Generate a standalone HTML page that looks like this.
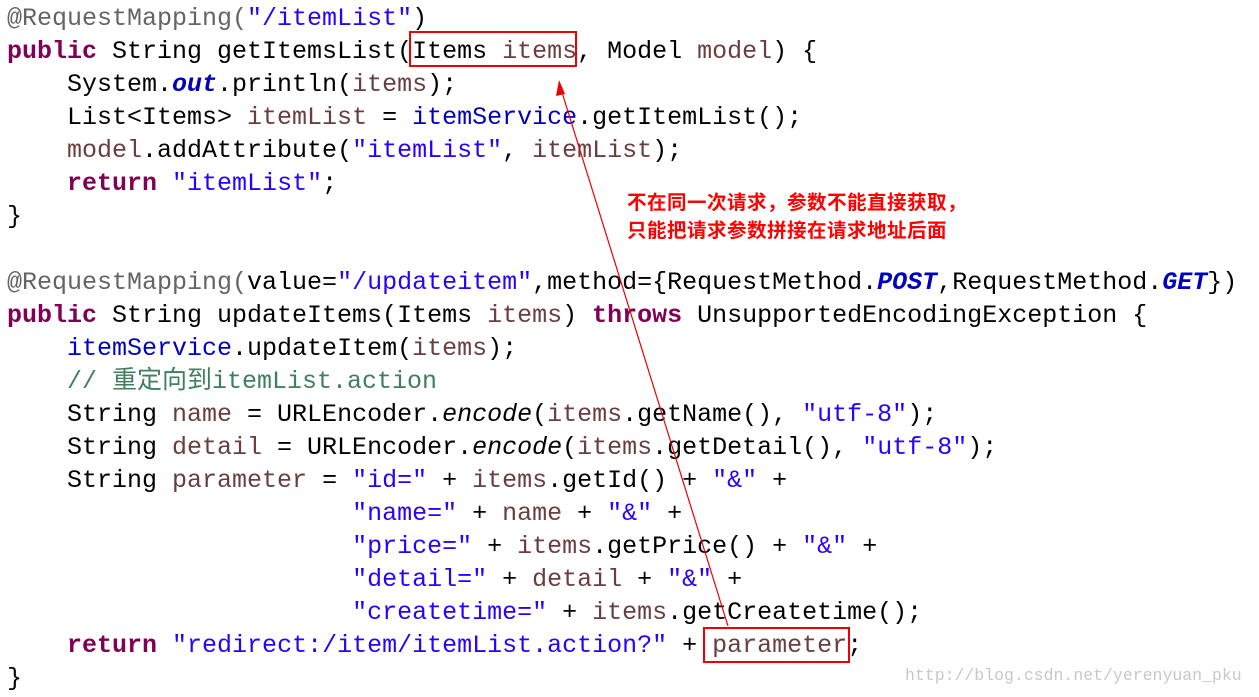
<!DOCTYPE html>
<html><head><meta charset="utf-8"><style>
body{margin:0;width:1259px;height:697px;background:#fff;position:relative;overflow:hidden}
pre{position:absolute;left:7px;top:2px;margin:0;font-family:"Liberation Mono","Noto Sans CJK SC",monospace;font-size:25px;line-height:33px;color:#000}
.k{color:#7f0055;font-weight:bold}.s{color:#2a00ff}.v{color:#6a3e3e}.f{color:#0000c0}.c{color:#3f7f5f}.a{color:#646464}
.fi{color:#0000c0;font-weight:bold;font-style:italic}.i{font-style:italic}
.box{position:absolute;border:2px solid #e00;box-sizing:border-box}
.note{position:absolute;left:627px;top:187px;color:#f00;font-weight:bold;font-size:19.5px;line-height:28px;font-family:"Noto Sans CJK SC",sans-serif;letter-spacing:0.5px}
.wm{position:absolute;left:905px;top:666px;color:#c8c8c8;font-family:"Liberation Mono",monospace;font-size:16.5px}
</style></head><body>
<pre><span class="a">@RequestMapping(</span><span class="s">"/itemList"</span>)
<span class="k">public</span> String getItemsList(Items <span class="v">items</span>, Model <span class="v">model</span>) {
    System.<span class="fi">out</span>.println(<span class="v">items</span>);
    List&lt;Items&gt; <span class="v">itemList</span> = <span class="f">itemService</span>.getItemList();
    <span class="v">model</span>.addAttribute(<span class="s">"itemList"</span>, <span class="v">itemList</span>);
    <span class="k">return</span> <span class="s">"itemList"</span>;
}

<span class="a">@RequestMapping(</span>value=<span class="s">"/updateitem"</span>,method={RequestMethod.<span class="fi">POST</span>,RequestMethod.<span class="fi">GET</span>})
<span class="k">public</span> String updateItems(Items <span class="v">items</span>) <span class="k">throws</span> UnsupportedEncodingException {
    <span class="f">itemService</span>.updateItem(<span class="v">items</span>);
    <span class="c">// 重定向到itemList.action</span>
    String <span class="v">name</span> = URLEncoder.<span class="i">encode</span>(<span class="v">items</span>.getName(), <span class="s">"utf-8"</span>);
    String <span class="v">detail</span> = URLEncoder.<span class="i">encode</span>(<span class="v">items</span>.getDetail(), <span class="s">"utf-8"</span>);
    String <span class="v">parameter</span> = <span class="s">"id="</span> + <span class="v">items</span>.getId() + <span class="s">"&amp;"</span> +
                       <span class="s">"name="</span> + <span class="v">name</span> + <span class="s">"&amp;"</span> +
                       <span class="s">"price="</span> + <span class="v">items</span>.getPrice() + <span class="s">"&amp;"</span> +
                       <span class="s">"detail="</span> + <span class="v">detail</span> + <span class="s">"&amp;"</span> +
                       <span class="s">"createtime="</span> + <span class="v">items</span>.getCreatetime();
    <span class="k">return</span> <span class="s">"redirect:/item/itemList.action?"</span> + <span class="v">parameter</span>;
}</pre>
<div class="box" style="left:409px;top:31px;width:168px;height:36px"></div>
<div class="box" style="left:703px;top:627px;width:147px;height:36px"></div>
<svg style="position:absolute;left:0;top:0" width="1259" height="697">
<line x1="728" y1="626" x2="560" y2="86" stroke="#e00" stroke-width="1.2"/>
<polygon points="559,80 556,96 565,94" fill="#e00"/>
</svg>
<div class="note">不在同一次请求，参数不能直接获取，<br>只能把请求参数拼接在请求地址后面</div>
<div class="wm">http://blog.csdn.net/yerenyuan_pku</div>
</body></html>
